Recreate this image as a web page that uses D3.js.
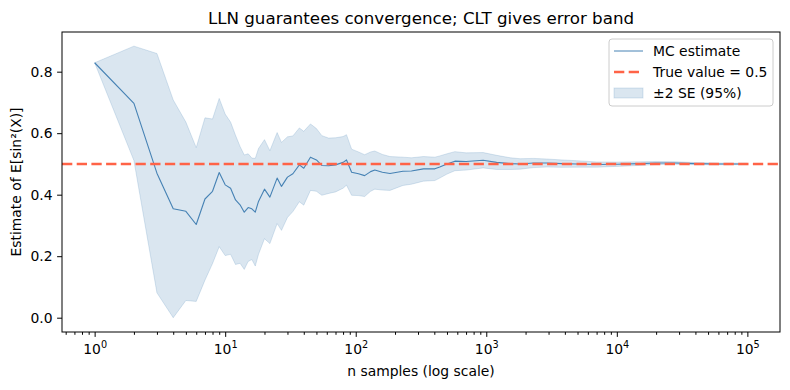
<!DOCTYPE html>
<html>
<head>
<meta charset="utf-8">
<script src="https://cdn.jsdelivr.net/npm/d3@7"></script>
<style>
  body { margin: 0; background: #fff; }
  svg text { font-family: "DejaVu Sans", sans-serif; fill: #000; }
</style>
</head>
<body>
<div id="chart"></div>
<script>
// sample sizes (log-spaced reading points of the running mean)
const nVals = [1, 2, 3, 4, 5, 6, 7, 8, 9, 10, 11, 12, 13, 14, 15, 16, 17, 18, 20, 22,
  25, 27, 30, 33, 37, 40, 45, 50, 55, 62, 70, 80, 85, 93, 105, 117, 130, 140, 160, 183,
  230, 267, 330, 404, 440, 500, 575, 700, 946, 1200, 1530, 1820, 2300, 2900, 3800, 4900,
  7000, 10000, 15000, 20000, 28000, 40000, 60000, 100000];
// running Monte Carlo estimate
const estVals = [0.829, 0.697, 0.47, 0.354, 0.346, 0.303, 0.386, 0.411, 0.472, 0.432, 0.421,
  0.383, 0.367, 0.343, 0.358, 0.354, 0.343, 0.378, 0.418, 0.392, 0.454, 0.427, 0.457, 0.468,
  0.497, 0.486, 0.522, 0.513, 0.495, 0.494, 0.497, 0.505, 0.513, 0.473, 0.468, 0.462, 0.475,
  0.48, 0.473, 0.469, 0.476, 0.477, 0.484, 0.484, 0.49, 0.5, 0.509, 0.508, 0.512, 0.505,
  0.501, 0.5, 0.503, 0.503, 0.501, 0.5, 0.498, 0.499, 0.501, 0.503, 0.503, 0.501, 0.5, 0.5];
// half width of the band (2 * standard error)
const bandVals = [0, 0.186, 0.389, 0.354, 0.29, 0.25, 0.264, 0.235, 0.241, 0.23, 0.215, 0.21,
  0.19, 0.186, 0.175, 0.165, 0.175, 0.172, 0.161, 0.151, 0.148, 0.143, 0.131, 0.123, 0.12,
  0.12, 0.108, 0.102, 0.097, 0.09, 0.088, 0.084, 0.082, 0.075, 0.071, 0.068, 0.064, 0.062,
  0.058, 0.055, 0.046, 0.043, 0.04, 0.038, 0.036, 0.033, 0.031, 0.028, 0.025, 0.023, 0.019,
  0.017, 0.015, 0.013, 0.012, 0.0105, 0.0085, 0.007, 0.0058, 0.005, 0.0042, 0.0035, 0.0029,
  0.0022];
const trueValue = 0.5;
const yTicks = [0.0, 0.2, 0.4, 0.6, 0.8];
const xTickExps = [0, 1, 2, 3, 4, 5];
const legendLabels = ["MC estimate", "True value = 0.5", "\u00b12 SE (95%)"];

const W = 790, H = 390;
const margin = { top: 32, right: 10, bottom: 58, left: 62 };
const width = W - margin.left - margin.right;
const height = H - margin.top - margin.bottom;

const data = nVals.map((n, i) => ({ n: n, est: estVals[i], hw: bandVals[i] }));

const svg = d3.select("#chart").append("svg")
  .attr("width", W).attr("height", H);

const g = svg.append("g")
  .attr("transform", "translate(" + margin.left + "," + margin.top + ")");

const x = d3.scaleLog()
  .domain([Math.pow(10, -0.25), Math.pow(10, 5.25)])
  .range([0, width]);

const y = d3.scaleLinear()
  .domain([-0.0465, 0.929])
  .range([height, 0]);

// error band
g.append("path")
  .datum(data)
  .attr("d", d3.area()
    .x(d => x(d.n))
    .y0(d => y(d.est - d.hw))
    .y1(d => y(d.est + d.hw)))
  .style("fill", "steelblue")
  .style("fill-opacity", 0.2)
  .style("stroke", "steelblue")
  .style("stroke-opacity", 0.2)
  .style("stroke-width", 1);

// running estimate
g.append("path")
  .datum(data)
  .attr("d", d3.line().x(d => x(d.n)).y(d => y(d.est)))
  .style("fill", "none")
  .style("stroke", "steelblue")
  .style("stroke-width", 1.1)
  .style("stroke-linejoin", "round");

// true value
g.append("line")
  .attr("x1", 0).attr("x2", width)
  .attr("y1", y(trueValue)).attr("y2", y(trueValue))
  .style("stroke", "tomato")
  .style("stroke-width", 2.6)
  .style("stroke-dasharray", "10.3,4.4");

// minor x ticks
const minor = [];
for (let e = -1; e <= 5; e++) {
  for (let k = 2; k <= 9; k++) {
    const v = k * Math.pow(10, e);
    if (v >= x.domain()[0] && v <= x.domain()[1]) minor.push(v);
  }
}
g.append("g")
  .attr("transform", "translate(0," + height + ")")
  .call(d3.axisBottom(x).tickValues(minor).tickSize(2.8).tickFormat(""))
  .call(s => s.select(".domain").remove());

// major x ticks
const xAxisG = g.append("g")
  .attr("transform", "translate(0," + height + ")")
  .call(d3.axisBottom(x).tickValues(xTickExps.map(e => Math.pow(10, e)))
    .tickSize(4.9).tickPadding(5).tickSizeOuter(0).tickFormat(""));
xAxisG.selectAll(".tick").append("text")
  .attr("y", 22)
  .attr("text-anchor", "middle")
  .style("font-size", "13.9px")
  .each(function (d) {
    const t = d3.select(this);
    t.append("tspan").text("10");
    t.append("tspan").attr("dy", -6).style("font-size", "9.7px").text(Math.round(Math.log10(d)));
  });

// y axis
g.append("g")
  .call(d3.axisLeft(y).tickValues(yTicks).tickSize(4.9).tickPadding(4.5).tickSizeOuter(0)
    .tickFormat(d3.format(".1f")))
  .selectAll("text").style("font-size", "13.9px");

// frame
g.append("rect")
  .attr("width", width).attr("height", height)
  .style("fill", "none").style("stroke", "#000").style("stroke-width", 1);
g.selectAll(".domain").style("stroke", "none");

// labels
svg.append("text")
  .attr("x", margin.left + width / 2).attr("y", 24)
  .attr("text-anchor", "middle")
  .style("font-size", "16.7px")
  .text("LLN guarantees convergence; CLT gives error band");

svg.append("text")
  .attr("x", margin.left + width / 2).attr("y", 376)
  .attr("text-anchor", "middle")
  .style("font-size", "13.9px")
  .text("n samples (log scale)");

svg.append("text")
  .attr("transform", "translate(21," + (margin.top + height / 2) + ") rotate(-90)")
  .attr("text-anchor", "middle")
  .style("font-size", "13.9px")
  .text("Estimate of E[sin\u00b2(X)]");

// legend
const leg = svg.append("g").attr("transform", "translate(609,39)");
leg.append("rect")
  .attr("width", 164).attr("height", 67).attr("rx", 3)
  .style("fill", "#fff").style("fill-opacity", 0.8)
  .style("stroke", "#ccc").style("stroke-width", 1);
leg.append("line")
  .attr("x1", 5).attr("x2", 34).attr("y1", 12).attr("y2", 12)
  .style("stroke", "steelblue").style("stroke-width", 1);
leg.append("line")
  .attr("x1", 5).attr("x2", 34).attr("y1", 33).attr("y2", 33)
  .style("stroke", "tomato").style("stroke-width", 2.6)
  .style("stroke-dasharray", "10.3,4.4");
leg.append("rect")
  .attr("x", 5).attr("y", 49).attr("width", 29).attr("height", 10)
  .style("fill", "steelblue").style("fill-opacity", 0.2)
  .style("stroke", "steelblue").style("stroke-opacity", 0.2);
leg.selectAll("text.lbl").data(legendLabels).enter().append("text")
  .attr("class", "lbl")
  .attr("x", 44)
  .attr("y", (d, i) => 12 + i * 21)
  .attr("dy", "0.35em")
  .style("font-size", "13.9px")
  .text(d => d);
</script>
</body>
</html>
